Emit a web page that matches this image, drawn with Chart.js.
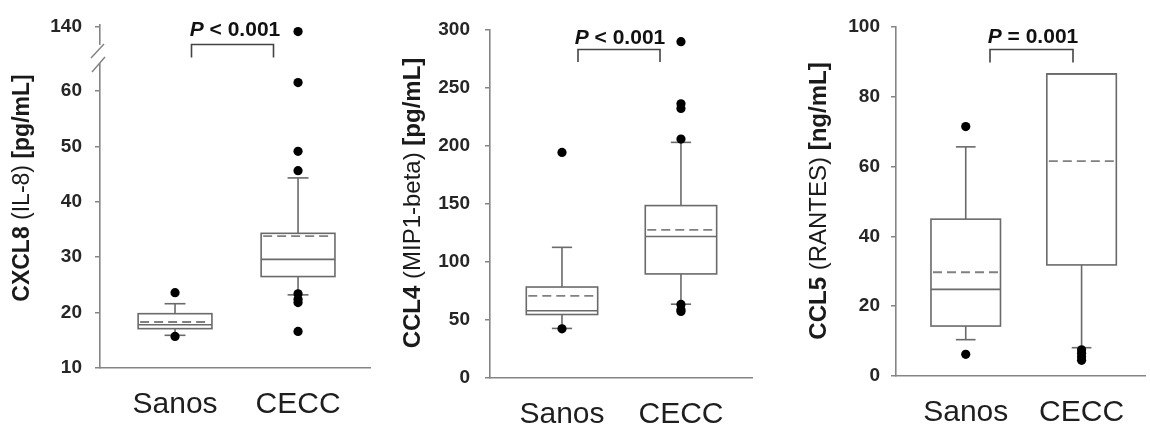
<!DOCTYPE html>
<html>
<head>
<meta charset="utf-8">
<script src="https://cdn.jsdelivr.net/npm/chart.js@4.4.1/dist/chart.umd.min.js"></script>
<style>
  html, body { margin: 0; padding: 0; background: #fff; }
  #wrap { position: relative; width: 1150px; height: 432px; overflow: hidden; background: #fff; }
  .panel { position: absolute; top: 0; height: 432px; }
  canvas { display: block; }
</style>
</head>
<body>
<div id="wrap">
  <div class="panel" style="left:0px;width:380px"><canvas id="c1" width="380" height="432"></canvas></div>
  <div class="panel" style="left:380px;width:390px"><canvas id="c2" width="390" height="432"></canvas></div>
  <div class="panel" style="left:770px;width:380px"><canvas id="c3" width="380" height="432"></canvas></div>
</div>
<script>
// Groups on the x axis
const GROUPS = ['Sanos', 'CECC'];

// CXCL8 (IL-8), pg/mL — per group: [Sanos, CECC]
const CXCL8_Q1 = [17.1, 26.5];
const CXCL8_MEDIAN = [17.8, 29.6];
const CXCL8_MEAN = [18.3, 33.8];
const CXCL8_Q3 = [19.8, 34.3];
const CXCL8_WHISKER_LO = [15.9, 23.2];
const CXCL8_WHISKER_HI = [21.6, 44.3];
const CXCL8_OUTLIERS = [[23.6, 15.7], [135, 61.5, 49.1, 45.6, 23.4, 22.4, 21.8, 16.6]];
const CXCL8_TICKS = [10, 20, 30, 40, 50, 60, 140];

// CCL4 (MIP1-beta), pg/mL
const CCL4_Q1 = [54.3, 89.3];
const CCL4_MEDIAN = [57.5, 121.5];
const CCL4_MEAN = [70.4, 127.2];
const CCL4_Q3 = [78.0, 148.2];
const CCL4_WHISKER_LO = [42.3, 63.2];
const CCL4_WHISKER_HI = [112.2, 202.7];
const CCL4_OUTLIERS = [[194, 42], [289.5, 236, 232, 205.5, 63, 58.5, 57]];
const CCL4_TICKS = [0, 50, 100, 150, 200, 250, 300];

// CCL5 (RANTES), ng/mL
const CCL5_Q1 = [14.3, 31.8];
const CCL5_MEDIAN = [24.8, 86.5];
const CCL5_MEAN = [29.7, 61.5];
const CCL5_Q3 = [44.9, 86.5];
const CCL5_WHISKER_LO = [10.4, 8.1];
const CCL5_WHISKER_HI = [65.6, 86.5];
const CCL5_OUTLIERS = [[71.4, 6.2], [7.5, 6.5, 5.5, 4.5]];
const CCL5_TICKS = [0, 20, 40, 60, 80, 100];

const P_LABELS = ['< 0.001', '< 0.001', '= 0.001'];

const FONT = "'Liberation Sans', Arial, Helvetica, sans-serif";
const AXIS_COLOR = '#858585';
const BOX_COLOR = '#6a6a6a';
const MEAN_COLOR = '#808080';

// Broken y axis of the CXCL8 panel: values above the break are compressed
// into a short segment at the top of the axis.
const CXCL8_BREAK = 66;
const cxcl8Axis = v => (v <= CXCL8_BREAK ? v : 71.6 + (v - 140) * 0.18);
const identity = v => v;

function boxPlugin(stats, yMap) {
  return {
    id: 'boxes',
    beforeDatasetsDraw(chart) {
      const { ctx } = chart;
      const xs = chart.scales.x, ys = chart.scales.y;
      const py = v => ys.getPixelForValue(yMap(v));
      const half = 0.3, cap = 0.085;
      ctx.save();
      ctx.lineWidth = 1.6;
      GROUPS.forEach((g, i) => {
        const xv = i + 1;
        const xc = xs.getPixelForValue(xv);
        const xl = xs.getPixelForValue(xv - half);
        const xr = xs.getPixelForValue(xv + half);
        const cl = xs.getPixelForValue(xv - cap);
        const cr = xs.getPixelForValue(xv + cap);
        const line = (x1, y1, x2, y2) => { ctx.beginPath(); ctx.moveTo(x1, y1); ctx.lineTo(x2, y2); ctx.stroke(); };
        ctx.strokeStyle = BOX_COLOR;
        ctx.setLineDash([]);
        if (stats.hi[i] > stats.q3[i]) {
          line(xc, py(stats.q3[i]), xc, py(stats.hi[i]));
          line(cl, py(stats.hi[i]), cr, py(stats.hi[i]));
        }
        if (stats.lo[i] < stats.q1[i]) {
          line(xc, py(stats.q1[i]), xc, py(stats.lo[i]));
          line(cl, py(stats.lo[i]), cr, py(stats.lo[i]));
        }
        const yt = py(stats.q3[i]), yb = py(stats.q1[i]);
        ctx.fillStyle = '#fff';
        ctx.fillRect(xl, yt, xr - xl, yb - yt);
        ctx.strokeRect(xl, yt, xr - xl, yb - yt);
        line(xl, py(stats.med[i]), xr, py(stats.med[i]));
        ctx.strokeStyle = MEAN_COLOR;
        ctx.lineWidth = 1.8;
        ctx.setLineDash([9, 5]);
        line(xl + 2, py(stats.mean[i]), xr - 2, py(stats.mean[i]));
        ctx.lineWidth = 1.6;
      });
      ctx.restore();
    }
  };
}

function labelPlugin(spec) {
  return {
    id: 'labels',
    afterDraw(chart) {
      const { ctx } = chart;
      ctx.save();
      // y-axis title with mixed weights, rotated
      const parts = spec.title;
      const size = spec.titleSize;
      let total = 0;
      const widths = parts.map(([t, w]) => { ctx.font = `${w} ${size}px ${FONT}`; const m = ctx.measureText(t).width; total += m; return m; });
      ctx.translate(spec.titleX, spec.titleY);
      ctx.rotate(-Math.PI / 2);
      ctx.fillStyle = '#1a1a1a';
      ctx.textBaseline = 'middle';
      ctx.textAlign = 'left';
      let x = -total / 2;
      parts.forEach(([t, w], k) => { ctx.font = `${w} ${size}px ${FONT}`; ctx.fillText(t, x, 0); x += widths[k]; });
      ctx.setTransform(1, 0, 0, 1, 0, 0);

      // P value with bracket
      const pSize = 21;
      ctx.font = `italic bold ${pSize}px ${FONT}`;
      const wP = ctx.measureText('P').width;
      ctx.font = `bold ${pSize}px ${FONT}`;
      const rest = ' ' + spec.pText;
      const wR = ctx.measureText(rest).width;
      const px = spec.pX - (wP + wR) / 2;
      ctx.textBaseline = 'alphabetic';
      ctx.fillStyle = '#111';
      ctx.font = `italic bold ${pSize}px ${FONT}`;
      ctx.fillText('P', px, spec.pBase);
      ctx.font = `bold ${pSize}px ${FONT}`;
      ctx.fillText(rest, px + wP, spec.pBase);

      ctx.strokeStyle = '#444';
      ctx.lineWidth = 1.6;
      ctx.beginPath();
      ctx.moveTo(spec.bx1, spec.bBot);
      ctx.lineTo(spec.bx1, spec.bTop);
      ctx.lineTo(spec.bx2, spec.bTop);
      ctx.lineTo(spec.bx2, spec.bBot);
      ctx.stroke();

      // axis break marks
      if (spec.axisBreak) {
        const ys = chart.scales.y;
        const ax = chart.chartArea.left;
        const gTop = ys.getPixelForValue(68.3), gBot = ys.getPixelForValue(65);
        ctx.fillStyle = '#fff';
        ctx.fillRect(ax - 3, gTop, 6, gBot - gTop);
        ctx.strokeStyle = AXIS_COLOR;
        ctx.lineWidth = 1.5;
        ctx.beginPath();
        ctx.moveTo(ax + 4, gTop - 1); ctx.lineTo(ax - 9, gTop + 13);
        ctx.moveTo(ax + 5, gTop + 12); ctx.lineTo(ax - 8, gTop + 27);
        ctx.stroke();
      }
      ctx.restore();
    }
  };
}

function makePanel(id, cfg) {
  const outlierPoints = [];
  cfg.outliers.forEach((list, i) => list.forEach(v => outlierPoints.push({ x: i + 1, y: cfg.yMap(v) })));
  const ticks = cfg.ticks;
  new Chart(document.getElementById(id), {
    type: 'scatter',
    data: {
      datasets: [{
        label: 'outliers',
        data: outlierPoints,
        pointRadius: 4.6,
        pointHoverRadius: 4.6,
        pointBackgroundColor: '#000',
        pointBorderWidth: 0,
        borderColor: '#000'
      }]
    },
    options: {
      responsive: false,
      animation: false,
      events: [],
      layout: { padding: { left: 0, right: cfg.padRight, top: cfg.top, bottom: 0 } },
      plugins: { legend: { display: false }, tooltip: { enabled: false } },
      scales: {
        x: {
          type: 'linear',
          min: cfg.xMin, max: cfg.xMax,
          afterBuildTicks: s => { s.ticks = GROUPS.map((g, i) => ({ value: i + 1 })); },
          afterFit: s => { s.height = cfg.xAxisH; },
          ticks: {
            autoSkip: false, maxRotation: 0,
            callback: (v, i) => GROUPS[i],
            font: { family: FONT, size: 30 },
            color: '#1e1e1e',
            padding: 19
          },
          grid: { display: false, drawTicks: false },
          border: { color: AXIS_COLOR, width: 1.6 }
        },
        y: {
          type: 'linear',
          min: cfg.yMin, max: cfg.yMax,
          afterBuildTicks: s => { s.ticks = ticks.map(v => ({ value: cfg.yMap(v) })); },
          afterFit: s => { s.width = cfg.axisX; },
          ticks: {
            autoSkip: false,
            callback: (v, i) => String(ticks[i]),
            font: { family: FONT, size: 19, weight: 'bold' },
            color: '#262626',
            padding: cfg.tickPad
          },
          grid: { drawOnChartArea: false, drawTicks: true, tickLength: 5, color: AXIS_COLOR, lineWidth: 1.5 },
          border: { color: AXIS_COLOR, width: 1.6 }
        }
      }
    },
    plugins: [boxPlugin(cfg.stats, cfg.yMap), labelPlugin(cfg.labels)]
  });
}

makePanel('c1', {
  axisX: 100, padRight: 10, top: 20, xAxisH: 64,
  xMin: 0.39, xMax: 2.585, yMin: 10, yMax: 72, tickPad: 13,
  yMap: cxcl8Axis, ticks: CXCL8_TICKS, outliers: CXCL8_OUTLIERS,
  stats: { q1: CXCL8_Q1, med: CXCL8_MEDIAN, mean: CXCL8_MEAN, q3: CXCL8_Q3, lo: CXCL8_WHISKER_LO, hi: CXCL8_WHISKER_HI },
  labels: {
    title: [['CXCL8 ', 'bold'], ['(IL-8) ', 'normal'], ['[pg/mL]', 'bold']], titleSize: 23, titleX: 23, titleY: 188,
    pText: P_LABELS[0], pX: 235, pBase: 35.5, bx1: 191.5, bx2: 273.5, bTop: 44.5, bBot: 57.5,
    axisBreak: true
  }
});

makePanel('c2', {
  axisX: 110, padRight: 18, top: 29.5, xAxisH: 54.5,
  xMin: 0.395, xMax: 2.597, yMin: 0, yMax: 300, tickPad: 15,
  yMap: identity, ticks: CCL4_TICKS, outliers: CCL4_OUTLIERS,
  stats: { q1: CCL4_Q1, med: CCL4_MEDIAN, mean: CCL4_MEAN, q3: CCL4_Q3, lo: CCL4_WHISKER_LO, hi: CCL4_WHISKER_HI },
  labels: {
    title: [['CCL4 ', 'bold'], ['(MIP1-beta) ', 'normal'], ['[pg/mL]', 'bold']], titleSize: 24, titleX: 33, titleY: 203,
    pText: P_LABELS[1], pX: 240, pBase: 43.5, bx1: 198, bx2: 280, bTop: 49.5, bBot: 62,
    axisBreak: false
  }
});

makePanel('c3', {
  axisX: 126, padRight: 0, top: 26.7, xAxisH: 56,
  xMin: 0.398, xMax: 2.551, yMin: 0, yMax: 100, tickPad: 11,
  yMap: identity, ticks: CCL5_TICKS, outliers: CCL5_OUTLIERS,
  stats: { q1: CCL5_Q1, med: CCL5_MEDIAN, mean: CCL5_MEAN, q3: CCL5_Q3, lo: CCL5_WHISKER_LO, hi: CCL5_WHISKER_HI },
  labels: {
    title: [['CCL5 ', 'bold'], ['(RANTES) ', 'normal'], ['[ng/mL]', 'bold']], titleSize: 24, titleX: 49, titleY: 201,
    pText: P_LABELS[2], pX: 263, pBase: 43, bx1: 220, bx2: 303, bTop: 49.5, bBot: 62.5,
    axisBreak: false
  }
});
</script>
</body>
</html>
